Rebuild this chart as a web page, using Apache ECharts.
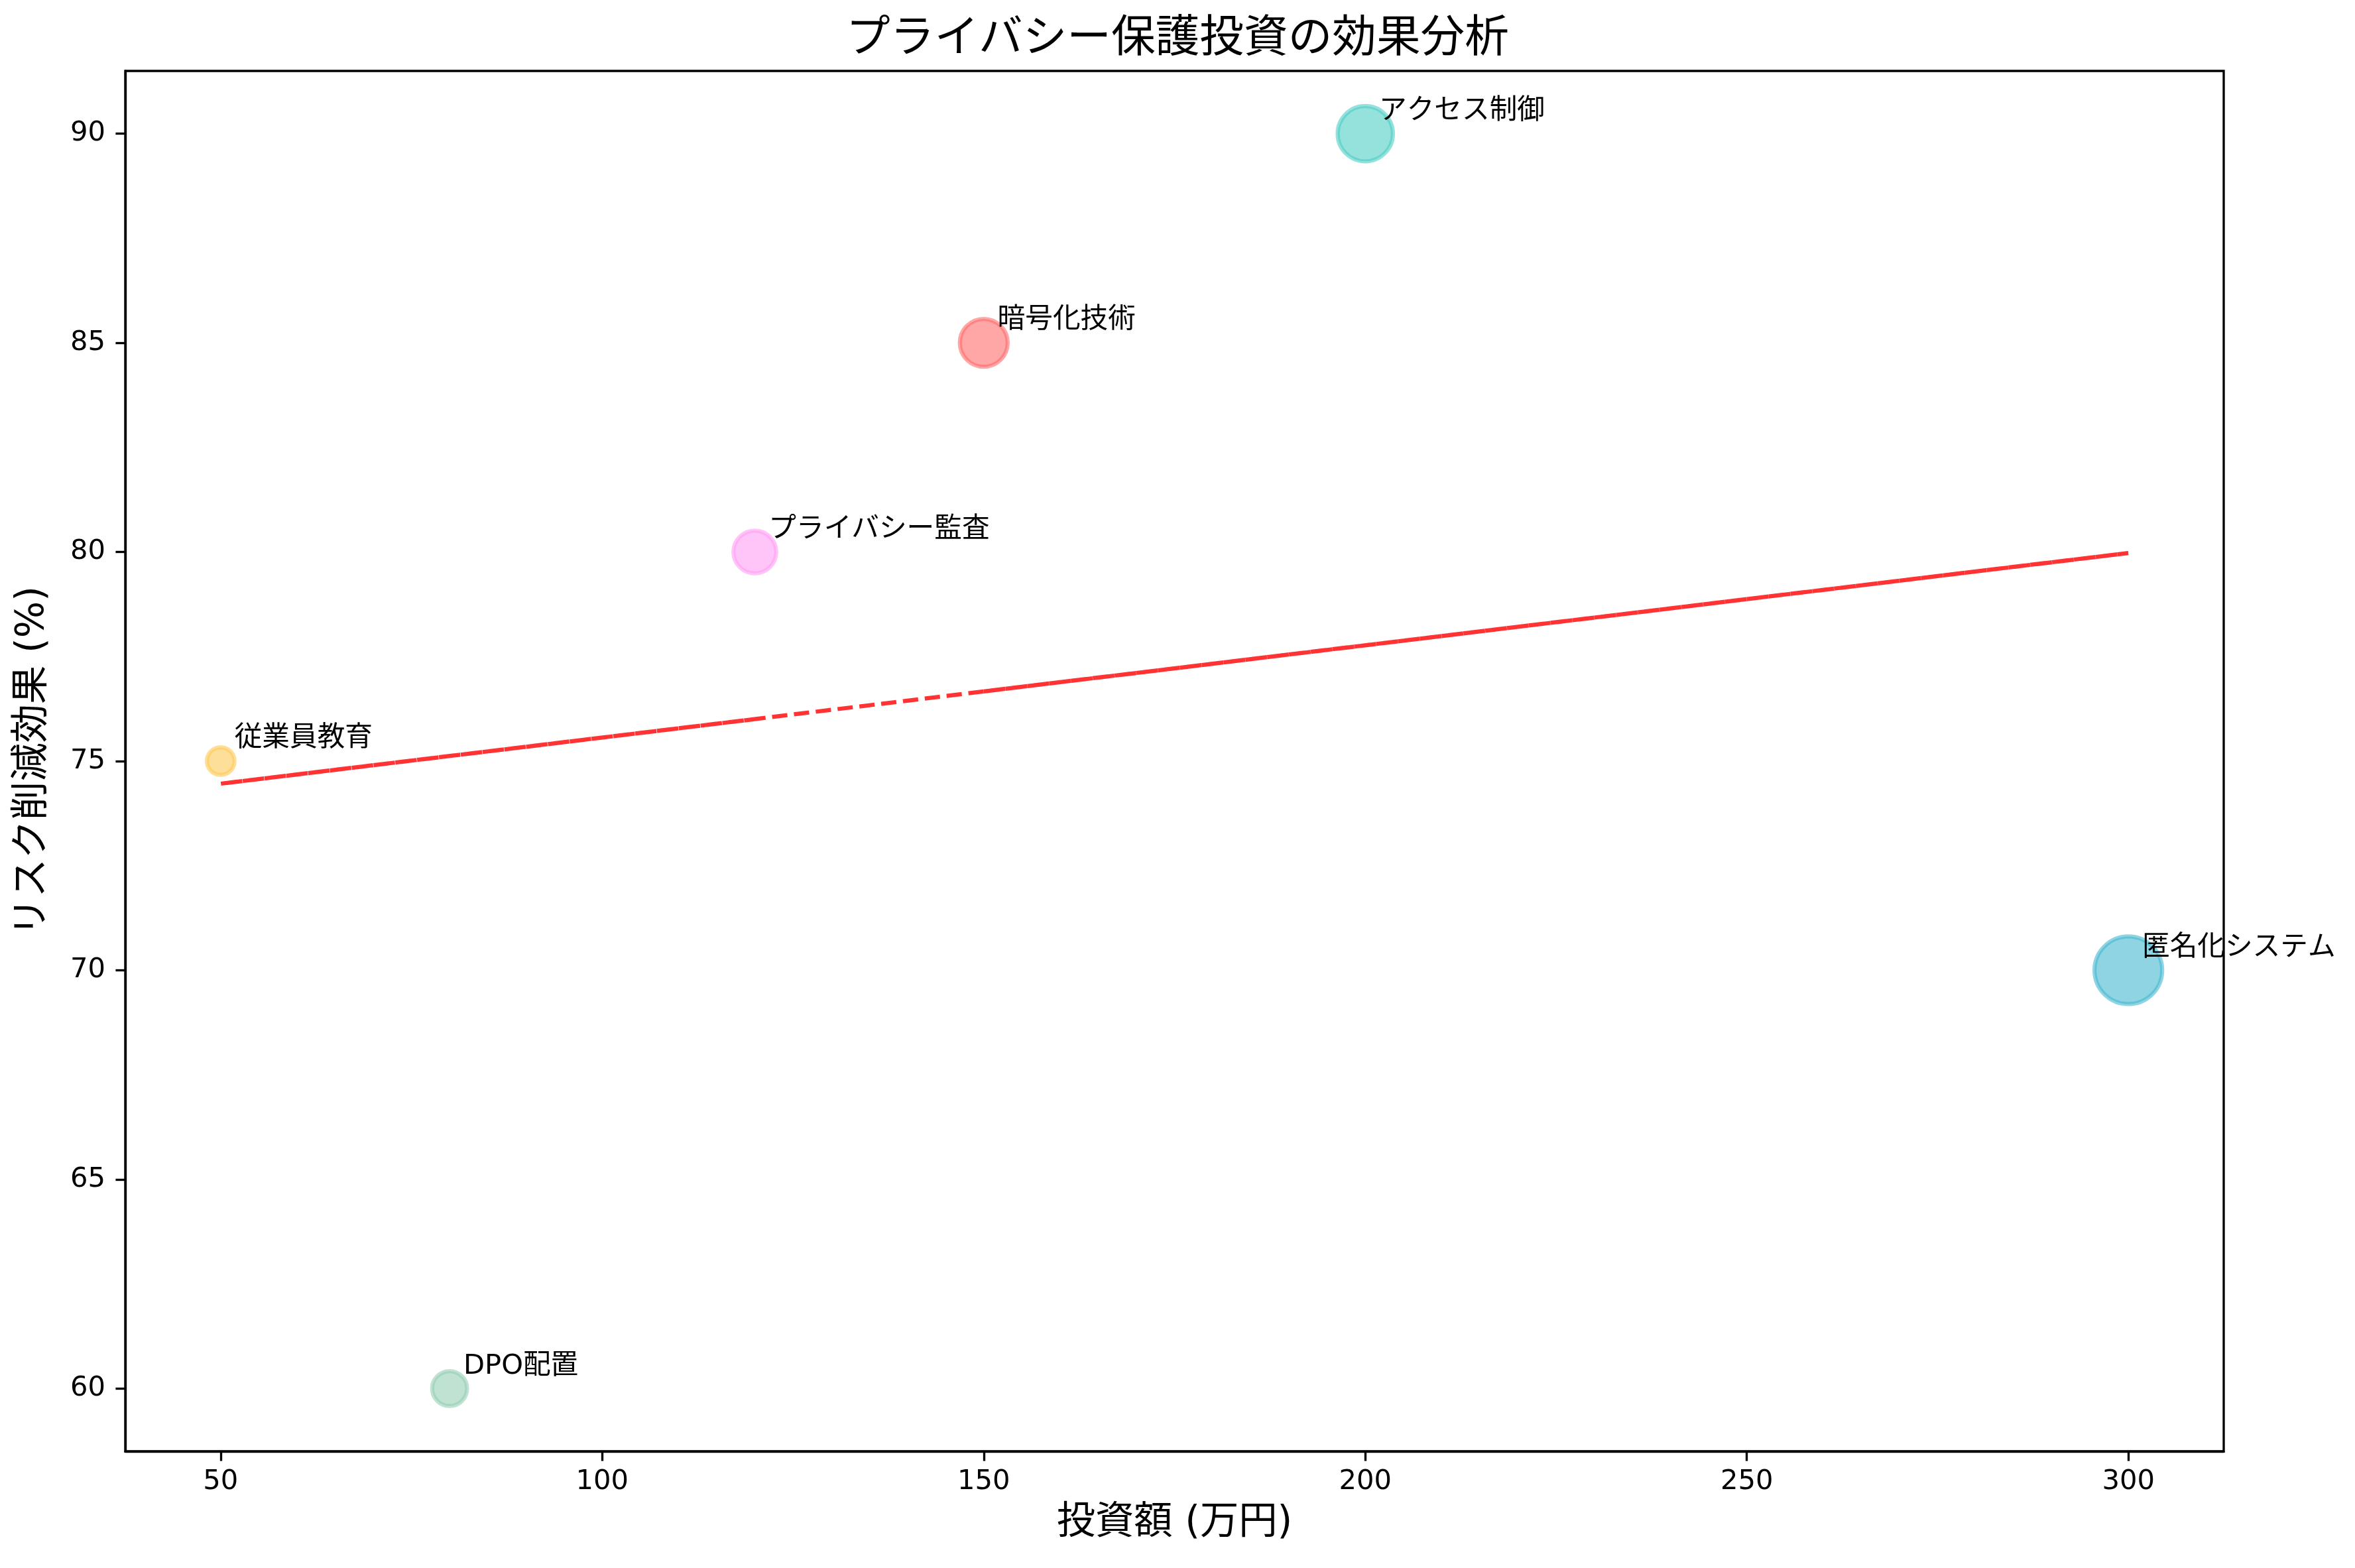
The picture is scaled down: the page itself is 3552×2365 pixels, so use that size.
<!DOCTYPE html>
<html>
<head>
<meta charset="utf-8">
<script src="https://cdn.jsdelivr.net/npm/echarts@6/dist/echarts.min.js"></script>
<style>
  html, body { margin: 0; padding: 0; background: #fff; }
  #chart { width: 3552px; height: 2365px; }
</style>
</head>
<body>
<div id="chart"></div>
<script>
// 施策ごとのデータ（投資額・リスク削減効果）
const measures = ['暗号化技術', 'アクセス制御', '匿名化システム', 'DPO配置', '従業員教育', 'プライバシー監査']
const investment = [150, 200, 300, 80, 50, 120]
const effect = [85, 90, 70, 60, 75, 80]
const colors = ['#FF6B6B', '#4ECDC4', '#45B7D1', '#96CEB4', '#FECA57', '#FF9FF3']
const xTicks = [50, 100, 150, 200, 250, 300]
const yTicks = [60, 65, 70, 75, 80, 85, 90]

const font = 'DejaVu Sans, Noto Sans CJK JP, sans-serif'
const PT = 300 / 72 // 1pt in px (dpi 300)

// hex -> rgba（ラベルまで透けないように色側で透明度を持たせる）
function withAlpha(hex, a) {
  const n = parseInt(hex.slice(1), 16)
  return `rgba(${(n >> 16) & 255},${(n >> 8) & 255},${n & 255},${a})`
}

// 最小二乗法で傾向線を求める
function linearFit(xs, ys) {
  const n = xs.length
  const mx = xs.reduce((a, b) => a + b, 0) / n
  const my = ys.reduce((a, b) => a + b, 0) / n
  let sxy = 0, sxx = 0
  for (let i = 0; i < n; i++) {
    sxy += (xs[i] - mx) * (ys[i] - my)
    sxx += (xs[i] - mx) * (xs[i] - mx)
  }
  const slope = sxy / sxx
  return { slope, intercept: my - slope * mx }
}
const fit = linearFit(investment, effect)
// データ順に結ぶ（元図と同じ描き方）
const trendData = investment.map(x => [x, fit.slope * x + fit.intercept])

const bubbleData = measures.map((name, i) => ({
  name,
  value: [investment[i], effect[i]],
  symbolSize: Math.sqrt(investment[i] * 2) * PT,
  itemStyle: { color: withAlpha(colors[i], 0.6), borderColor: withAlpha(colors[i], 0.6) }
}))

const chart = echarts.init(document.getElementById('chart'), null, { renderer: 'canvas' })
chart.setOption({
  animation: false,
  backgroundColor: '#fff',
  textStyle: { fontFamily: font },
  title: {
    text: 'プライバシー保護投資の効果分析',
    left: 1771,
    textAlign: 'center',
    top: 22,
    textStyle: { fontSize: 16 * PT, fontWeight: 'normal', color: '#000', fontFamily: font }
  },
  grid: {
    left: 189, right: 198, top: 107, bottom: 176,
    show: true, borderColor: '#000', borderWidth: 0.8 * PT, backgroundColor: 'transparent'
  },
  xAxis: {
    type: 'value',
    min: 37.5, max: 312.5,
    name: '投資額 (万円)',
    nameLocation: 'middle',
    nameGap: 80,
    nameTextStyle: { fontSize: 14 * PT, color: '#000', fontFamily: font },
    axisLine: { show: true, lineStyle: { color: '#000', width: 0.8 * PT } },
    axisTick: { show: true, length: 3.5 * PT, lineStyle: { color: '#000', width: 0.8 * PT }, customValues: xTicks },
    axisLabel: { fontSize: 10 * PT, color: '#000', margin: 25, customValues: xTicks, fontFamily: font },
    splitLine: { show: false }
  },
  yAxis: {
    type: 'value',
    min: 58.5, max: 91.5,
    name: 'リスク削減効果 (%)',
    nameLocation: 'middle',
    nameGap: 110,
    nameTextStyle: { fontSize: 14 * PT, color: '#000', fontFamily: font },
    axisLine: { show: true, lineStyle: { color: '#000', width: 0.8 * PT } },
    axisTick: { show: true, length: 3.5 * PT, lineStyle: { color: '#000', width: 0.8 * PT }, customValues: yTicks },
    axisLabel: { fontSize: 10 * PT, color: '#000', margin: 30, customValues: yTicks, fontFamily: font },
    splitLine: { show: false }
  },
  series: [
    {
      type: 'scatter',
      data: bubbleData,
      z: 2,
      itemStyle: { borderWidth: 1.5 * PT, opacity: 1 },
      label: {
        show: true,
        position: 'inside',
        align: 'left',
        verticalAlign: 'bottom',
        offset: [5 * PT, -5 * PT + 8],
        formatter: p => p.name,
        fontSize: 10 * PT,
        color: '#000',
        opacity: 1,
        fontFamily: font
      },
      emphasis: { disabled: true }
    },
    {
      type: 'line',
      data: trendData,
      z: 3,
      symbol: 'none',
      lineStyle: { color: '#FF0000', width: 1.5 * PT, opacity: 0.8, type: [3.7 * 1.5 * PT, 1.6 * 1.5 * PT] },
      emphasis: { disabled: true }
    }
  ]
})
</script>
</body>
</html>
